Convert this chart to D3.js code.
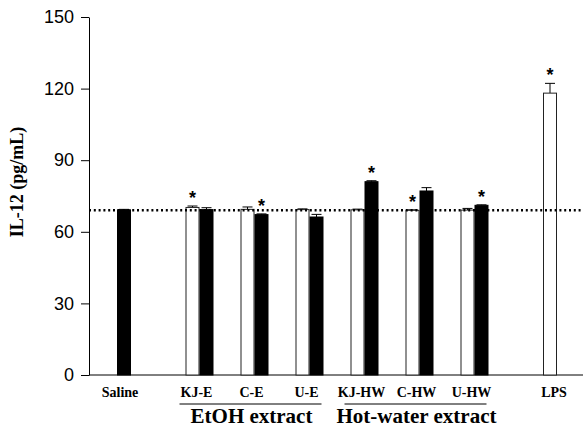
<!DOCTYPE html>
<html>
<head>
<meta charset="utf-8">
<script src="https://d3js.org/d3.v7.min.js"></script>
<style>
  body { margin: 0; background: #fff; }
  .tick text { font-family: Arial, "Liberation Sans", sans-serif; font-size: 18px; fill: #000; }
</style>
</head>
<body>
<div id="plot"></div>
<script>
// groups and their slot position along the x axis
var groups = ["Saline", "KJ-E", "C-E", "U-E", "KJ-HW", "C-HW", "U-HW", "LPS"];
var slots = [0, 1.5, 2.5, 3.5, 4.5, 5.5, 6.5, 8];

// open bars (null = not drawn)
var openVals = [null, 70.2, 69.4, 69.3, 69.2, 69.0, 69.1, 118.1];
var openErr = [null, 0.6, 1.0, 0.3, 0.3, 0.2, 0.7, 4.1];
var openStar = [false, true, false, false, false, true, false, true];

// filled bars
var filledVals = [69.2, 69.3, 67.2, 66.2, 81.0, 77.1, 71.1, null];
var filledErr = [0.2, 0.8, 0.3, 1.1, 0.4, 1.4, 0.2, null];
var filledStar = [false, false, true, false, true, false, true, false];

var yTicks = [0, 30, 60, 90, 120, 150];
var baseline = 69;

var extractGroups = [
  {label: "EtOH extract", from: 1.5, to: 3.5},
  {label: "Hot-water extract", from: 4.5, to: 6.5}
];

var serif = "'Liberation Serif', 'Times New Roman', Times, serif";

var svgWidth = 583;
var svgHeight = 435;
var margin = {top: 17, right: 0, bottom: 60, left: 89};
var width = svgWidth - margin.left - margin.right;
var height = svgHeight - margin.top - margin.bottom;

var svg = d3.select("#plot")
  .append("svg")
  .attr("width", svgWidth)
  .attr("height", svgHeight);

var chartGroup = svg.append("g")
  .attr("transform", `translate(${margin.left}, ${margin.top})`);

var barW = 14;
var xScale = d3.scaleLinear().domain([0, 1]).range([28, 83]);
var yScale = d3.scaleLinear().domain([0, 150]).range([height, 0]);

// y axis
var leftAxis = d3.axisLeft(yScale).tickValues(yTicks).tickSize(8).tickPadding(7).tickSizeOuter(0);
var yAxis = chartGroup.append("g").call(leftAxis);
yAxis.select(".domain").attr("stroke", "#000");
yAxis.selectAll(".tick line").attr("stroke", "#000");

// x axis line
chartGroup.append("line")
  .attr("x1", 0).attr("x2", width)
  .attr("y1", height).attr("y2", height)
  .attr("stroke", "#000").attr("stroke-width", 1);

// y title
chartGroup.append("text")
  .attr("transform", `translate(${-66}, ${165}) rotate(-90)`)
  .attr("text-anchor", "middle")
  .attr("font-family", serif)
  .attr("font-weight", "bold")
  .attr("font-size", "18px")
  .text("IL-12 (pg/mL)");

function drawBars(vals, errs, stars, offset, fill) {
  vals.forEach(function(v, i) {
    if (v === null) return;
    var x = xScale(slots[i]) + offset;
    var top = yScale(v);
    var errTop = yScale(v + errs[i]);
    var cx = x + barW / 2;
    chartGroup.append("line")
      .attr("x1", cx).attr("x2", cx)
      .attr("y1", top).attr("y2", errTop)
      .attr("stroke", "#000").attr("stroke-width", 1);
    chartGroup.append("line")
      .attr("x1", cx - 5).attr("x2", cx + 5)
      .attr("y1", errTop).attr("y2", errTop)
      .attr("stroke", "#000").attr("stroke-width", 1);
    chartGroup.append("rect")
      .attr("x", x + 0.5).attr("y", top)
      .attr("width", barW - 1).attr("height", height - top)
      .attr("fill", fill)
      .attr("stroke", fill === "#000" ? "#000" : "#222")
      .attr("stroke-width", 1);
    if (stars[i]) {
      chartGroup.append("text")
        .attr("x", cx)
        .attr("y", errTop - 2)
        .attr("text-anchor", "middle")
        .attr("font-family", "Arial, 'Liberation Sans', sans-serif")
        .attr("font-weight", "bold")
        .attr("font-size", "18px")
        .text("*");
    }
  });
}

drawBars(openVals, openErr, openStar, -barW, "#fff");
drawBars(filledVals, filledErr, filledStar, 0, "#000");

// dotted control line
chartGroup.append("line")
  .attr("x1", 0).attr("x2", width)
  .attr("y1", yScale(baseline)).attr("y2", yScale(baseline))
  .attr("stroke", "#000")
  .attr("stroke-width", 2.5)
  .attr("stroke-dasharray", "2,2.8");

// category labels
chartGroup.selectAll(".cat")
  .data(groups)
  .enter()
  .append("text")
  .attr("class", "cat")
  .attr("x", (d, i) => xScale(slots[i]) + (i === 0 ? 3 : -3))
  .attr("y", height + 22)
  .attr("text-anchor", "middle")
  .attr("font-family", serif)
  .attr("font-weight", "bold")
  .attr("font-size", "14px")
  .text(d => d);

// extract group brackets
extractGroups.forEach(function(g) {
  var x1 = xScale(g.from) - 20;
  var x2 = xScale(g.to) + 12;
  chartGroup.append("line")
    .attr("x1", x1).attr("x2", x2)
    .attr("y1", height + 29).attr("y2", height + 29)
    .attr("stroke", "#000").attr("stroke-width", 1);
  chartGroup.append("text")
    .attr("x", (xScale(g.from) + xScale(g.to)) / 2 - 3)
    .attr("y", height + 48)
    .attr("text-anchor", "middle")
    .attr("font-family", serif)
    .attr("font-weight", "bold")
    .attr("font-size", "21px")
    .text(g.label);
});
</script>
</body>
</html>
